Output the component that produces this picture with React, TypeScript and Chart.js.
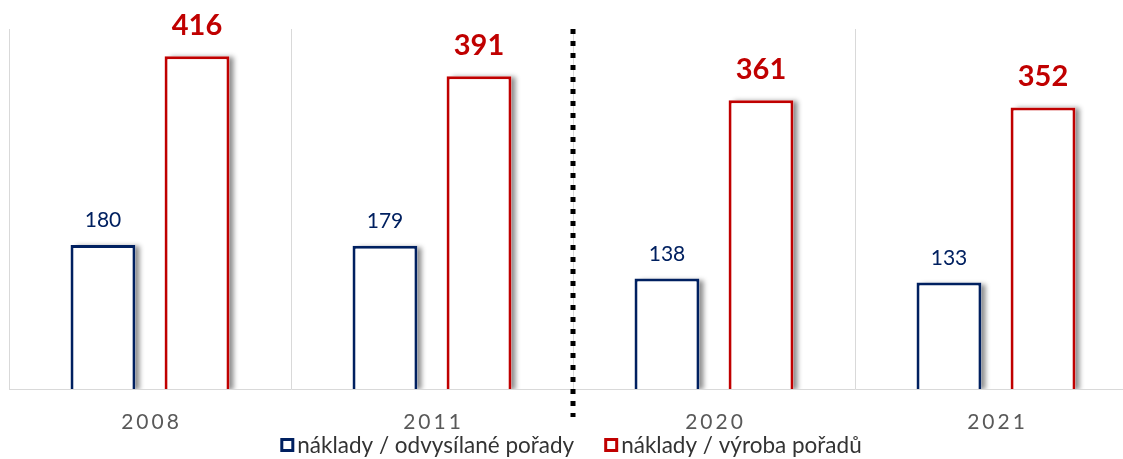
import React, { useEffect, useRef } from "react";
import { Chart, registerables } from "chart.js";

Chart.register(...registerables);

const years = ["2008", "2011", "2020", "2021"];
const broadcastCosts = [180, 179, 138, 133];
const productionCosts = [416, 391, 361, 352];
const seriesNames = ["náklady / odvysílané pořady", "náklady / výroba pořadů"];

const NAVY = "#002060";
const RED = "#C00000";
const FONT = "Lato, 'Open Sans', sans-serif";

const shadowPlugin = {
  id: "barShadow",
  beforeDatasetsDraw(chart: any) {
    const ctx = chart.ctx;
    const a = chart.chartArea;
    ctx.save();
    ctx.beginPath();
    ctx.rect(a.left, a.top - 10, a.right - a.left, a.bottom - a.top + 10);
    ctx.clip();
    chart.data.datasets.forEach((_: any, di: number) => {
      const meta = chart.getDatasetMeta(di);
      meta.data.forEach((bar: any) => {
        const { x, y, base, width } = bar.getProps(["x", "y", "base", "width"], true);
        ctx.shadowColor = "rgba(0,0,0,0.45)";
        ctx.shadowBlur = 5;
        ctx.shadowOffsetX = 5;
        ctx.shadowOffsetY = 1;
        ctx.fillStyle = "#ffffff";
        ctx.fillRect(x - width / 2, y, width, base - y);
      });
    });
    ctx.restore();
  },
};

const labelPlugin = {
  id: "valueLabels",
  afterDatasetsDraw(chart: any) {
    const ctx = chart.ctx;
    ctx.save();
    ctx.textAlign = "center";
    ctx.textBaseline = "alphabetic";
    chart.data.datasets.forEach((ds: any, di: number) => {
      const meta = chart.getDatasetMeta(di);
      meta.data.forEach((bar: any, i: number) => {
        const v = ds.data[i];
        if (di === 0) {
          ctx.font = `21px ${FONT}`;
          ctx.fillStyle = NAVY;
          ctx.fillText(String(v), bar.x, bar.y - 18);
        } else {
          ctx.font = `bold 29px ${FONT}`;
          ctx.fillStyle = RED;
          ctx.fillText(String(v), bar.x, bar.y - 21);
        }
      });
    });
    ctx.restore();
  },
};

const dividerPlugin = {
  id: "divider",
  afterDatasetsDraw(chart: any) {
    const ctx = chart.ctx;
    const xs = chart.scales.x;
    const x = Math.round((xs.getPixelForValue(1) + xs.getPixelForValue(2)) / 2);
    ctx.save();
    ctx.strokeStyle = "#000000";
    ctx.lineWidth = 5;
    ctx.lineCap = "butt";
    ctx.setLineDash([5, 7]);
    ctx.beginPath();
    ctx.moveTo(x, chart.chartArea.top);
    ctx.lineTo(x, chart.chartArea.bottom + 28);
    ctx.stroke();
    ctx.restore();
  },
};

const axisLabelPlugin = {
  id: "axisLabels",
  afterDraw(chart: any) {
    const ctx = chart.ctx;
    const xs = chart.scales.x;
    ctx.save();
    ctx.font = `21px ${FONT}`;
    (ctx as any).letterSpacing = "3px";
    ctx.fillStyle = "#595959";
    ctx.textAlign = "center";
    ctx.textBaseline = "alphabetic";
    years.forEach((y, i) => {
      ctx.fillText(y, xs.getPixelForValue(i) + 1.5, chart.chartArea.bottom + 40);
    });
    ctx.restore();
  },
};

const legendPlugin = {
  id: "customLegend",
  afterDraw(chart: any) {
    const ctx = chart.ctx;
    const a = chart.chartArea;
    const colors = [NAVY, RED];
    const box = 14;
    const gapText = 3;
    const gapItem = 30;
    ctx.save();
    ctx.font = `22.5px ${FONT}`;
    const widths = seriesNames.map((s) => ctx.measureText(s).width);
    const total = widths.reduce((s, w) => s + box + gapText + w, 0) + gapItem;
    let x = (a.left + a.right) / 2 - total / 2 - 2;
    const baseY = a.bottom + 64;
    seriesNames.forEach((name, i) => {
      ctx.strokeStyle = colors[i];
      ctx.lineWidth = 3;
      ctx.strokeRect(x + 1.5, baseY - 15 + 1.5, box - 3, box - 3);
      ctx.fillStyle = "#333333";
      ctx.textAlign = "left";
      ctx.textBaseline = "alphabetic";
      ctx.fillText(name, x + box + gapText, baseY);
      x += box + gapText + widths[i] + gapItem;
    });
    ctx.restore();
  },
};

export default function App() {
  const canvasRef = useRef<HTMLCanvasElement | null>(null);

  useEffect(() => {
    if (!canvasRef.current) return;
    const chart = new Chart(canvasRef.current, {
      type: "bar",
      data: {
        labels: years,
        datasets: [
          {
            label: seriesNames[0],
            data: broadcastCosts,
            backgroundColor: "#ffffff",
            borderColor: NAVY,
            borderWidth: 3,
            borderSkipped: "bottom",
            categoryPercentage: 0.667,
            barPercentage: 0.69,
          },
          {
            label: seriesNames[1],
            data: productionCosts,
            backgroundColor: "#ffffff",
            borderColor: RED,
            borderWidth: 3,
            borderSkipped: "bottom",
            categoryPercentage: 0.667,
            barPercentage: 0.69,
          },
        ],
      },
      options: {
        animation: false,
        responsive: true,
        maintainAspectRatio: false,
        layout: { padding: { left: 9, right: 0, top: 29, bottom: 0 } },
        plugins: {
          legend: { display: false },
          tooltip: { enabled: false },
          title: { display: false },
        },
        scales: {
          x: {
            offset: true,
            grid: { color: "#d9d9d9", lineWidth: 1, drawTicks: false, offset: true },
            border: { display: true, color: "#d9d9d9", width: 1 },
            ticks: { display: false },
            afterFit: (s: any) => {
              s.height = 70;
            },
          },
          y: {
            display: false,
            min: 0,
            max: 450,
          },
        },
      },
      plugins: [shadowPlugin, labelPlugin, dividerPlugin, axisLabelPlugin, legendPlugin],
    });
    return () => chart.destroy();
  }, []);

  return (
    <div style={{ position: "absolute", left: 0, top: 0, width: 1123, height: 459, overflow: "hidden", background: "#fff" }}>
      <div style={{ position: "relative", width: 1137, height: 459 }}>
        <canvas ref={canvasRef} />
      </div>
    </div>
  );
}
